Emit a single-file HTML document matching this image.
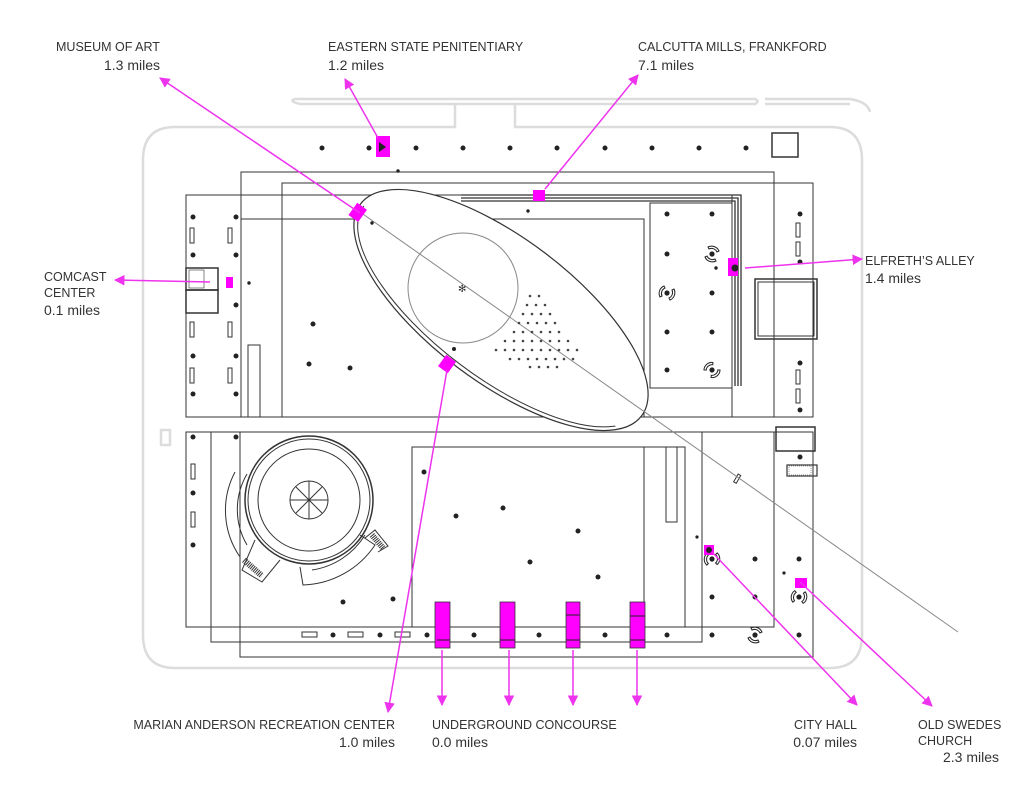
<!DOCTYPE html>
<html><head><meta charset="utf-8"><style>
html,body{margin:0;padding:0;background:#fff}
svg{display:block}
text{font-family:"Liberation Sans",sans-serif;fill:#333}
.t{font-size:12.5px}
.m{font-size:14px}
</style></head><body>
<svg width="1024" height="791" viewBox="0 0 1024 791" xmlns="http://www.w3.org/2000/svg">
<defs>
<marker id="ar" viewBox="0 0 10 10" refX="9" refY="5" markerWidth="7" markerHeight="7" orient="auto-start-reverse"><path d="M0,0L10,5L0,10z" fill="#ee33ee"/></marker>
<g id="wh"><circle r="2.6" fill="#222"/><path d="M-4,-7 A8,8 0 0 1 7,-3 L5,-2 A6,6 0 0 0 -3,-5Z M4,7 A8,8 0 0 1 -7,3 L-5,2 A6,6 0 0 0 3,5Z" fill="none" stroke="#222" stroke-width="1"/></g>
<clipPath id="lowhalf"><polygon points="300,150 300,500 700,500"/></clipPath>
</defs>
<g fill="none" stroke="#dcdcdc" stroke-width="2.5">
<path d="M175,127 L455,127 L455,104 L515,104 L515,127 L830,127 Q862,127 862,160 L862,635 Q862,668 830,668 L175,668 Q143,668 143,635 L143,160 Q143,127 175,127Z"/>
<path d="M295,99 L755,99 Q760,101 755,104 L515,104 M455,104 L300,104 Q288,101 295,99"/>
<path d="M765,99 L850,99 Q868,102 870,112 M765,104 L850,104"/>
<rect x="161" y="430" width="9" height="15"/>
</g>
<g fill="none" stroke="#333" stroke-width="1">
<rect x="241" y="172" width="533" height="245"/>
<rect x="282" y="183" width="531" height="234"/>
<rect x="186" y="195" width="546" height="222"/>
<rect x="241" y="219" width="403" height="198"/>
<line x1="282" y1="219" x2="282" y2="417"/>
<rect x="650" y="203" width="82" height="185"/>
<path d="M461,195 L741,195 L741,386 M461,198 L738,198 L738,386 M461,201 L735,201 L735,386" stroke-width="1.3"/>
<rect x="186" y="268" width="32" height="22" stroke-width="1.5"/>
<rect x="186" y="290" width="32" height="23" stroke-width="1.5"/>
<rect x="755" y="279" width="62" height="60" stroke-width="1.5"/>
<rect x="758" y="282" width="56" height="54"/>
<rect x="772" y="133" width="26" height="24" stroke-width="1.5"/>
<rect x="248" y="345" width="12" height="72"/>
<rect x="240" y="432" width="573" height="225"/>
<rect x="211" y="432" width="491" height="210"/>
<rect x="186" y="432" width="588" height="195"/>
<rect x="412" y="447" width="273" height="180"/>
<line x1="644" y1="447" x2="644" y2="627"/>
<rect x="666" y="447" width="11" height="75"/>
<rect x="776" y="427" width="39" height="24" stroke-width="1.5"/>
<rect x="787" y="465" width="30" height="11" stroke-width="1.2"/>
<circle cx="309" cy="500" r="64" stroke-width="1.5"/>
<circle cx="309" cy="500" r="61"/>
<circle cx="309" cy="500" r="51"/>
<circle cx="309" cy="500" r="19"/>
<path d="M309,481V519M290,500H328M296,487L322,513M322,487L296,513"/>
<path d="M247,474 A70,70 0 0 0 247,545 M235,472 A82,82 0 0 0 240,557"/>
<path d="M300,567 L303,585 A90,90 0 0 0 375,545 L360,535"/>
<path d="M312,570 A75,75 0 0 0 365,535"/>
<path d="M255,540 L242,570 L262,582 L280,560" />
<path d="M365,538 L375,530 L388,546 L378,552"/>
</g>
<g fill="#333">
<rect x="189" y="270" width="15" height="18" fill="none" stroke="#333" stroke-width="0.6"/>
<path d="M244,560L262,576" stroke="#333" stroke-width="6" stroke-dasharray="1,1"/>
<path d="M372,535L383,548" stroke="#333" stroke-width="6" stroke-dasharray="1,1"/>
<rect x="789" y="466" width="22" height="9" fill="none" stroke="#333" stroke-width="0.5" stroke-dasharray="1,1"/>
</g>
<g fill="none" stroke="#333" stroke-width="1">
<rect x="190" y="228" width="4" height="15"/><rect x="228" y="228" width="4" height="15"/>
<rect x="190" y="322" width="4" height="15"/><rect x="228" y="322" width="4" height="15"/>
<rect x="190" y="368" width="4" height="15"/><rect x="228" y="368" width="4" height="15"/>
<rect x="796" y="223" width="4" height="14"/><rect x="796" y="242" width="4" height="14"/>
<rect x="796" y="370" width="4" height="14"/><rect x="796" y="389" width="4" height="14"/>
<rect x="191" y="464" width="4" height="15"/><rect x="191" y="512" width="4" height="15"/>
<rect x="302" y="632" width="15" height="5"/><rect x="348" y="632" width="15" height="5"/><rect x="395" y="632" width="15" height="5"/>
<rect x="736" y="474" width="3" height="9" transform="rotate(30 737 478)"/>
</g>
<ellipse cx="501" cy="310" rx="176" ry="72" transform="rotate(37 501 310)" fill="#fff" stroke="#333" stroke-width="1.2"/>
<g clip-path="url(#lowhalf)"><ellipse cx="501" cy="310" rx="172" ry="68" transform="rotate(37 501 310)" fill="none" stroke="#333" stroke-width="1"/></g>
<circle cx="463" cy="288" r="55" fill="none" stroke="#888" stroke-width="1"/>
<line x1="360" y1="212" x2="958" y2="632" stroke="#888" stroke-width="1"/>
<text x="458" y="292" style="font-size:10px;fill:#333">✻</text>
<g fill="#222">
<circle cx="322" cy="148" r="2.5"/><circle cx="416" cy="148" r="2.5"/><circle cx="463" cy="148" r="2.5"/><circle cx="510" cy="148" r="2.5"/><circle cx="557" cy="148" r="2.5"/><circle cx="605" cy="148" r="2.5"/><circle cx="652" cy="148" r="2.5"/><circle cx="699" cy="148" r="2.5"/><circle cx="746" cy="148" r="2.5"/><circle cx="369" cy="148" r="2.5"/>
<circle cx="193" cy="217" r="2.5"/><circle cx="236" cy="217" r="2.5"/><circle cx="193" cy="255" r="2.5"/><circle cx="236" cy="255" r="2.5"/><circle cx="236" cy="305" r="2.5"/><circle cx="193" cy="356" r="2.5"/><circle cx="236" cy="356" r="2.5"/><circle cx="193" cy="394" r="2.5"/><circle cx="236" cy="394" r="2.5"/>
<circle cx="313" cy="324" r="2.5"/><circle cx="309" cy="364" r="2.5"/><circle cx="350" cy="368" r="2.5"/><circle cx="454" cy="349" r="2"/><circle cx="372" cy="223" r="1.7"/><circle cx="398" cy="171" r="1.7"/><circle cx="528" cy="211" r="1.7"/><circle cx="249" cy="283" r="1.7"/>
<circle cx="667" cy="214" r="2.5"/><circle cx="712" cy="214" r="2.5"/><circle cx="667" cy="254" r="2.5"/><circle cx="712" cy="293" r="2.5"/><circle cx="667" cy="332" r="2.5"/><circle cx="712" cy="332" r="2.5"/><circle cx="667" cy="370" r="2.5"/><circle cx="716" cy="268" r="1.7"/>
<circle cx="800" cy="214" r="2.5"/><circle cx="800" cy="262" r="2.5"/><circle cx="800" cy="363" r="2.5"/><circle cx="800" cy="410" r="2.5"/>
<circle cx="193" cy="437" r="2.5"/><circle cx="236" cy="437" r="2.5"/><circle cx="193" cy="493" r="2.5"/><circle cx="193" cy="545" r="2.5"/>
<circle cx="343" cy="602" r="2.5"/><circle cx="393" cy="599" r="2.5"/>
<circle cx="424" cy="472" r="2.5"/><circle cx="456" cy="516" r="2.5"/><circle cx="503" cy="508" r="2.5"/><circle cx="578" cy="531" r="2.5"/><circle cx="530" cy="562" r="2.5"/><circle cx="598" cy="577" r="2.5"/>
<circle cx="333" cy="635" r="2.5"/><circle cx="380" cy="635" r="2.5"/><circle cx="427" cy="635" r="2.5"/><circle cx="474" cy="635" r="2.5"/><circle cx="539" cy="635" r="2.5"/><circle cx="605" cy="635" r="2.5"/><circle cx="667" cy="635" r="2.5"/><circle cx="712" cy="635" r="2.5"/><circle cx="799" cy="635" r="2.5"/>
<circle cx="755" cy="559" r="2.5"/><circle cx="799" cy="559" r="2.5"/><circle cx="712" cy="597" r="2.5"/><circle cx="755" cy="597" r="2.5"/><circle cx="697" cy="537" r="1.6"/><circle cx="784" cy="573" r="1.6"/><circle cx="800" cy="457" r="2.5"/>
</g>
<g fill="#444">
<circle cx="530" cy="296" r="1.3"/><circle cx="539" cy="296" r="1.3"/>
<circle cx="527" cy="305" r="1.3"/><circle cx="536" cy="305" r="1.3"/><circle cx="545" cy="305" r="1.3"/>
<circle cx="523" cy="314" r="1.3"/><circle cx="532" cy="314" r="1.3"/><circle cx="541" cy="314" r="1.3"/><circle cx="550" cy="314" r="1.3"/>
<circle cx="519" cy="323" r="1.3"/><circle cx="528" cy="323" r="1.3"/><circle cx="537" cy="323" r="1.3"/><circle cx="546" cy="323" r="1.3"/><circle cx="555" cy="323" r="1.3"/>
<circle cx="514" cy="332" r="1.3"/><circle cx="523" cy="332" r="1.3"/><circle cx="532" cy="332" r="1.3"/><circle cx="541" cy="332" r="1.3"/><circle cx="550" cy="332" r="1.3"/><circle cx="559" cy="332" r="1.3"/>
<circle cx="505" cy="341" r="1.3"/><circle cx="514" cy="341" r="1.3"/><circle cx="523" cy="341" r="1.3"/><circle cx="532" cy="341" r="1.3"/><circle cx="541" cy="341" r="1.3"/><circle cx="550" cy="341" r="1.3"/><circle cx="559" cy="341" r="1.3"/><circle cx="568" cy="341" r="1.3"/>
<circle cx="496" cy="350" r="1.3"/><circle cx="505" cy="350" r="1.3"/><circle cx="514" cy="350" r="1.3"/><circle cx="523" cy="350" r="1.3"/><circle cx="532" cy="350" r="1.3"/><circle cx="541" cy="350" r="1.3"/><circle cx="550" cy="350" r="1.3"/><circle cx="559" cy="350" r="1.3"/><circle cx="568" cy="350" r="1.3"/><circle cx="577" cy="350" r="1.3"/>
<circle cx="510" cy="359" r="1.3"/><circle cx="519" cy="359" r="1.3"/><circle cx="528" cy="359" r="1.3"/><circle cx="537" cy="359" r="1.3"/><circle cx="546" cy="359" r="1.3"/><circle cx="555" cy="359" r="1.3"/><circle cx="564" cy="359" r="1.3"/><circle cx="573" cy="359" r="1.3"/>
<circle cx="530" cy="367" r="1.3"/><circle cx="539" cy="367" r="1.3"/><circle cx="548" cy="367" r="1.3"/><circle cx="557" cy="367" r="1.3"/>
</g>
<use href="#wh" x="712" y="254"/><use href="#wh" x="667" y="293" transform="rotate(90 667 293)"/><use href="#wh" x="712" y="370" transform="rotate(-60 712 370)"/>
<use href="#wh" x="712" y="559" transform="rotate(70 712 559)"/><use href="#wh" x="799" y="597" transform="rotate(80 799 597)"/><use href="#wh" x="755" y="635"/>
<g fill="#ff00ff">
<rect x="376" y="136" width="14" height="21"/>
<rect x="533" y="190" width="12" height="11"/>
<rect x="352" y="205" width="12" height="15" transform="rotate(36 358 212)"/>
<rect x="441" y="357" width="12" height="14" transform="rotate(36 447 364)"/>
<rect x="728" y="258" width="10" height="18"/>
<rect x="226" y="277" width="7" height="11"/>
<rect x="704" y="545" width="10" height="10"/>
<rect x="795" y="578" width="12" height="10"/>
<rect x="435" y="602" width="15" height="46" stroke="#333" stroke-width="0.8"/>
<rect x="500" y="602" width="15" height="46" stroke="#333" stroke-width="0.8"/>
<rect x="566" y="602" width="14" height="46" stroke="#333" stroke-width="0.8"/>
<rect x="630" y="602" width="15" height="46" stroke="#333" stroke-width="0.8"/>
</g>
<g fill="#222"><path d="M379,142L386,147L379,152Z"/><circle cx="735" cy="268" r="3.5"/><circle cx="709" cy="550" r="3"/></g>
<g stroke="#222" stroke-width="1"><path d="M437,640H450M500,640H515M566,640H580M630,640H645M630,616H645M566,615H580"/></g>
<g stroke="#ee33ee" stroke-width="1.5" fill="none" marker-end="url(#ar)">
<line x1="360" y1="213" x2="160" y2="78"/>
<line x1="378" y1="138" x2="345" y2="79"/>
<line x1="545" y1="189" x2="638" y2="75"/>
<line x1="745" y1="268" x2="862" y2="259"/>
<line x1="210" y1="282" x2="115" y2="280"/>
<line x1="447" y1="370" x2="388" y2="712"/>
<line x1="442" y1="650" x2="442" y2="705"/>
<line x1="509" y1="650" x2="509" y2="705"/>
<line x1="573" y1="650" x2="573" y2="705"/>
<line x1="637" y1="650" x2="637" y2="705"/>
<line x1="712" y1="552" x2="857" y2="705"/>
<line x1="800" y1="582" x2="932" y2="706"/>
</g>
<text class="t" x="56" y="51">MUSEUM OF ART</text>
<text class="m" x="160" y="70" text-anchor="end">1.3 miles</text>
<text class="t" x="328" y="51">EASTERN STATE PENITENTIARY</text>
<text class="m" x="328" y="70">1.2 miles</text>
<text class="t" x="638" y="51">CALCUTTA MILLS, FRANKFORD</text>
<text class="m" x="638" y="70">7.1 miles</text>
<text class="t" x="865" y="265">ELFRETH’S ALLEY</text>
<text class="m" x="865" y="283">1.4 miles</text>
<text class="t" x="44" y="281">COMCAST</text>
<text class="t" x="44" y="297">CENTER</text>
<text class="m" x="44" y="315">0.1 miles</text>
<text class="t" x="395" y="729" text-anchor="end">MARIAN ANDERSON RECREATION CENTER</text>
<text class="m" x="395" y="747" text-anchor="end">1.0 miles</text>
<text class="t" x="432" y="729">UNDERGROUND CONCOURSE</text>
<text class="m" x="432" y="747">0.0 miles</text>
<text class="t" x="857" y="729" text-anchor="end">CITY HALL</text>
<text class="m" x="857" y="747" text-anchor="end">0.07 miles</text>
<text class="t" x="918" y="729">OLD SWEDES</text>
<text class="t" x="918" y="745">CHURCH</text>
<text class="m" x="999" y="762" text-anchor="end">2.3 miles</text>
</svg>
</body></html>
